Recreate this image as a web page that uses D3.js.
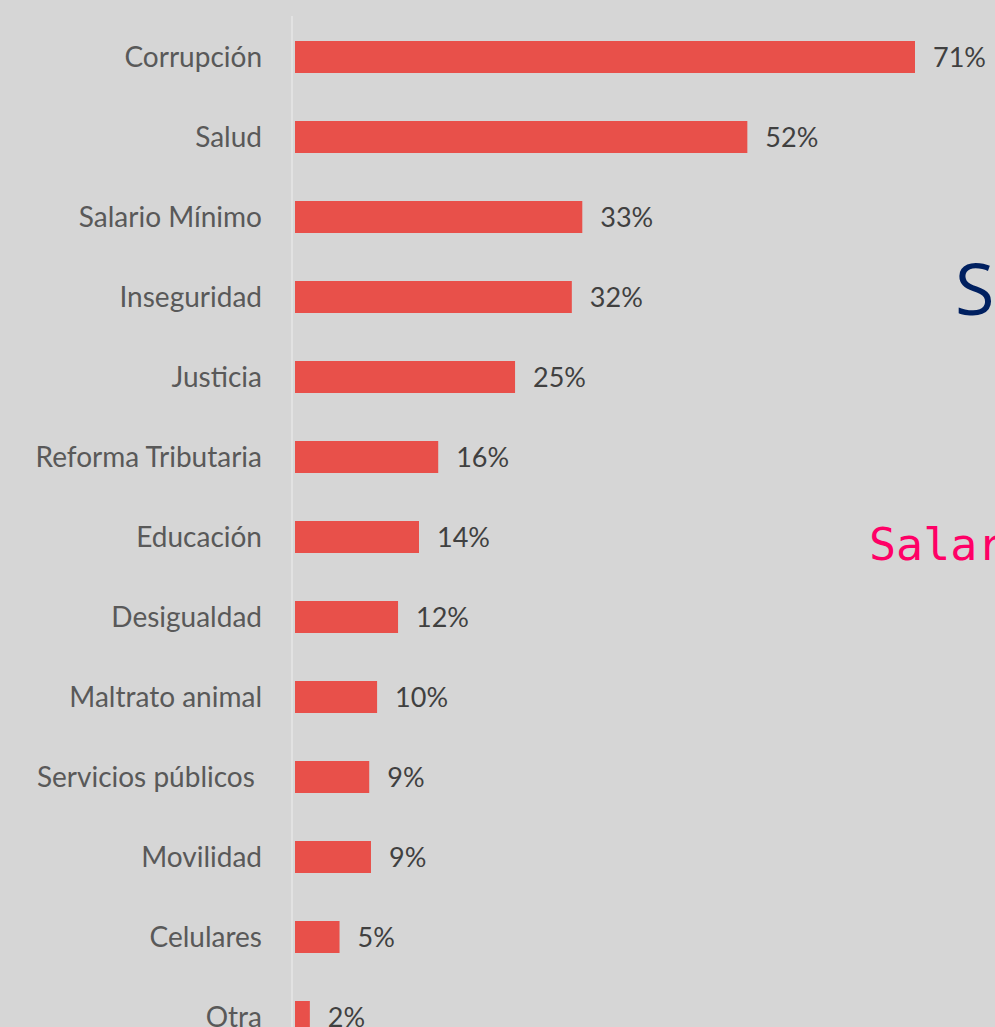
<!DOCTYPE html>
<html>
<head>
<meta charset="utf-8">
<script src="https://cdn.jsdelivr.net/npm/d3@7"></script>
<style>
  html, body { margin: 0; padding: 0; background: #d6d6d6; overflow: hidden; }
  svg text { font-family: Lato, "Open Sans", sans-serif; }
</style>
</head>
<body>
<div id="chart"></div>
<script>
// categories, top to bottom
const categories = [
  "Corrupción", "Salud", "Salario Mínimo", "Inseguridad", "Justicia",
  "Reforma Tributaria", "Educación", "Desigualdad", "Maltrato animal",
  "Servicios públicos ", "Movilidad", "Celulares", "Otra"
];
// bar lengths, in percent
const values = [71, 51.8, 32.9, 31.7, 25.2, 16.4, 14.2, 11.8, 9.4, 8.5, 8.7, 5.1, 1.7];
// printed labels
const valueLabels = ["71%", "52%", "33%", "32%", "25%", "16%", "14%", "12%", "10%", "9%", "9%", "5%", "2%"];

const width = 995,
  height = 1027,
  margin = { top: 17, left: 295 };

const data = categories.map((c, i) => ({ cat: c, value: values[i], label: valueLabels[i] }));

const svg = d3.select("#chart")
  .append("svg")
  .attr("width", width)
  .attr("height", height);

svg.append("rect")
  .attr("width", width)
  .attr("height", height)
  .attr("fill", "#d6d6d6");

const xScale = d3.scaleLinear()
  .domain([0, 71])
  .range([margin.left, 915]);

const yScale = d3.scaleBand()
  .domain(categories)
  .range([margin.top, margin.top + categories.length * 80])
  .paddingInner(0.6)
  .paddingOuter(0.3);

// vertical axis line
svg.append("line")
  .attr("x1", margin.left - 3)
  .attr("x2", margin.left - 3)
  .attr("y1", 16)
  .attr("y2", height)
  .attr("stroke", "#e2e2e2")
  .attr("stroke-width", 2);

// bars
svg.selectAll("rect.bar")
  .data(data)
  .join("rect")
  .attr("class", "bar")
  .attr("x", xScale(0))
  .attr("y", d => yScale(d.cat))
  .attr("width", d => xScale(d.value) - xScale(0))
  .attr("height", yScale.bandwidth())
  .attr("fill", "#e8504a");

// category labels
svg.selectAll("text.cat")
  .data(data)
  .join("text")
  .attr("class", "cat")
  .attr("x", 262)
  .attr("y", d => yScale(d.cat) + yScale.bandwidth() / 2)
  .attr("dy", "0.36em")
  .attr("text-anchor", "end")
  .attr("font-size", 28)
  .attr("fill", "#595959")
  .style("white-space", "pre")
  .text(d => d.cat);

// value labels
svg.selectAll("text.val")
  .data(data)
  .join("text")
  .attr("class", "val")
  .attr("x", d => xScale(d.value) + 18)
  .attr("y", d => yScale(d.cat) + yScale.bandwidth() / 2)
  .attr("dy", "0.36em")
  .attr("font-size", 27)
  .attr("fill", "#404040")
  .text(d => d.label);

// stray overlapping texts at the right edge
svg.append("text")
  .attr("x", 955)
  .attr("y", 315)
  .attr("font-size", 72)
  .attr("fill", "#002060")
  .style("font-family", "'Open Sans', sans-serif")
  .text("S");

svg.append("text")
  .attr("x", 869)
  .attr("y", 560)
  .attr("font-size", 45)
  .attr("fill", "#ff0066")
  .style("font-family", "'DejaVu Sans Mono', monospace")
  .text("Salario");
</script>
</body>
</html>
